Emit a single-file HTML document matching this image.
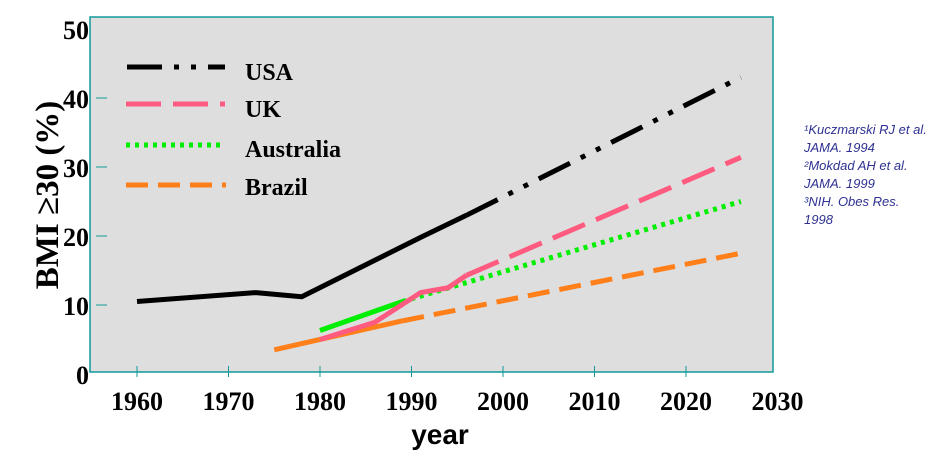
<!DOCTYPE html>
<html><head><meta charset="utf-8"><style>
body{margin:0;background:#fff;width:938px;height:451px;overflow:hidden}
svg{display:block}
.t{font-family:"Liberation Serif",serif;font-weight:bold;font-size:24px;fill:#000}
.k{font-family:"Liberation Serif",serif;font-weight:bold;font-size:26px;fill:#000}
</style></head><body>
<svg width="938" height="451">
<rect x="90" y="17" width="683" height="355" fill="#dedede" stroke="#119999" stroke-width="1.5"/>
<g id="axes"></g>
<g id="series"></g>
<g>
<line x1="127" y1="67" x2="225" y2="67" stroke="#000" stroke-width="5" stroke-dasharray="35,12,5,12,5,12,20"/>
<text class="t" x="245" y="80">USA</text>
<line x1="126" y1="104" x2="225" y2="104" stroke="#ff5a80" stroke-width="5" stroke-dasharray="35,12"/>
<text class="t" x="245" y="117">UK</text>
<line x1="126" y1="145" x2="224" y2="145" stroke="#00ee00" stroke-width="5" stroke-dasharray="4,5"/>
<text class="t" x="245" y="157">Australia</text>
<line x1="126" y1="185" x2="226" y2="185" stroke="#ff7f1a" stroke-width="5" stroke-dasharray="22,10"/>
<text class="t" x="245" y="195">Brazil</text>
</g>
<text transform="translate(58,195) rotate(-90)" text-anchor="middle" style="font-family:'Liberation Serif',serif;font-weight:bold;font-size:33px">BMI ≥30 (%)</text>
<text x="440" y="444" text-anchor="middle" style="font-family:'Liberation Sans',sans-serif;font-weight:bold;font-size:28px">year</text>
<g style="font-family:'Liberation Sans',sans-serif;font-style:italic;font-size:13px;fill:#2e3192">
<text x="804" y="134">¹Kuczmarski RJ et al.</text>
<text x="804" y="152">JAMA. 1994</text>
<text x="804" y="170">²Mokdad AH et al.</text>
<text x="804" y="188">JAMA. 1999</text>
<text x="804" y="206">³NIH. Obes Res.</text>
<text x="804" y="224">1998</text>
</g>
</svg>
<script>
const xTicks=[1960,1970,1980,1990,2000,2010,2020,2030];
const yTicks=[0,10,20,30,40,50];
const usaYears=[1960,1973,1978,1991,1996];
const usaVals=[10.5,11.8,11.2,19.8,23];
const usaProjYears=[1996,2026];
const usaProjVals=[23,43];
const ukYears=[1980,1986,1991,1994,1996];
const ukVals=[5,7.5,11.8,12.5,14.3];
const ukProjYears=[1996,2026];
const ukProjVals=[14.3,31.4];
const ausYears=[1980,1989];
const ausVals=[6.3,10.5];
const ausProjYears=[1989,2026];
const ausProjVals=[10.5,25];
const brYears=[1975,1989];
const brVals=[3.5,7.7];
const brProjYears=[1989,2026];
const brProjVals=[7.7,17.5];
const X=y=>137+(y-1960)*9.15;
const Y=v=>374-v*6.9;
const NS='http://www.w3.org/2000/svg';
const ax=document.getElementById('axes'),se=document.getElementById('series');
function mk(tag,attrs,parent){const e=document.createElementNS(NS,tag);for(const k in attrs)e.setAttribute(k,attrs[k]);parent.appendChild(e);return e;}
xTicks.forEach(t=>{
 if(t<2030){
 const l=mk('line',{x1:X(t),x2:X(t),y1:366,y2:377,stroke:'#119999','stroke-width':1},ax);
 
 
 }
 const tx=mk('text',{x:X(t),y:410,'text-anchor':'middle',class:'k'},ax);tx.textContent=t;
 
 
});
yTicks.forEach(t=>{
 if(t>0&&t<50){
 const l=mk('line',{x1:96,x2:107,y1:Y(t),y2:Y(t),stroke:'#119999','stroke-width':1},ax);
 
 
 }
 const tx=mk('text',{x:89,y:Y(t)+10,'text-anchor':'end',class:'k'},ax);tx.textContent=t;
 
 
});
function line(xs,vs,color,dash,name){
 const p=mk('polyline',{points:xs.map((x,i)=>X(x)+','+Y(vs[i])).join(' '),fill:'none',stroke:color,'stroke-width':5,'stroke-linejoin':'round'},se);
 if(dash)p.setAttribute('stroke-dasharray',dash);
 
 
}
line(brYears,brVals,'#ff7f1a',null,'brazil-line');
line(brProjYears,brProjVals,'#ff7f1a','22,10','brazil-projection');
line(ausYears,ausVals,'#00ee00',null,'australia-line');
line(ausProjYears,ausProjVals,'#00ee00','4,5','australia-projection');
line(ukYears,ukVals,'#ff5a80',null,'uk-line');
line(ukProjYears,ukProjVals,'#ff5a80','35,12','uk-projection');
line(usaYears,usaVals,'#000',null,'usa-line');
line(usaProjYears,usaProjVals,'#000','35,12,5,12,5,12','usa-projection');
</script>
</body></html>
